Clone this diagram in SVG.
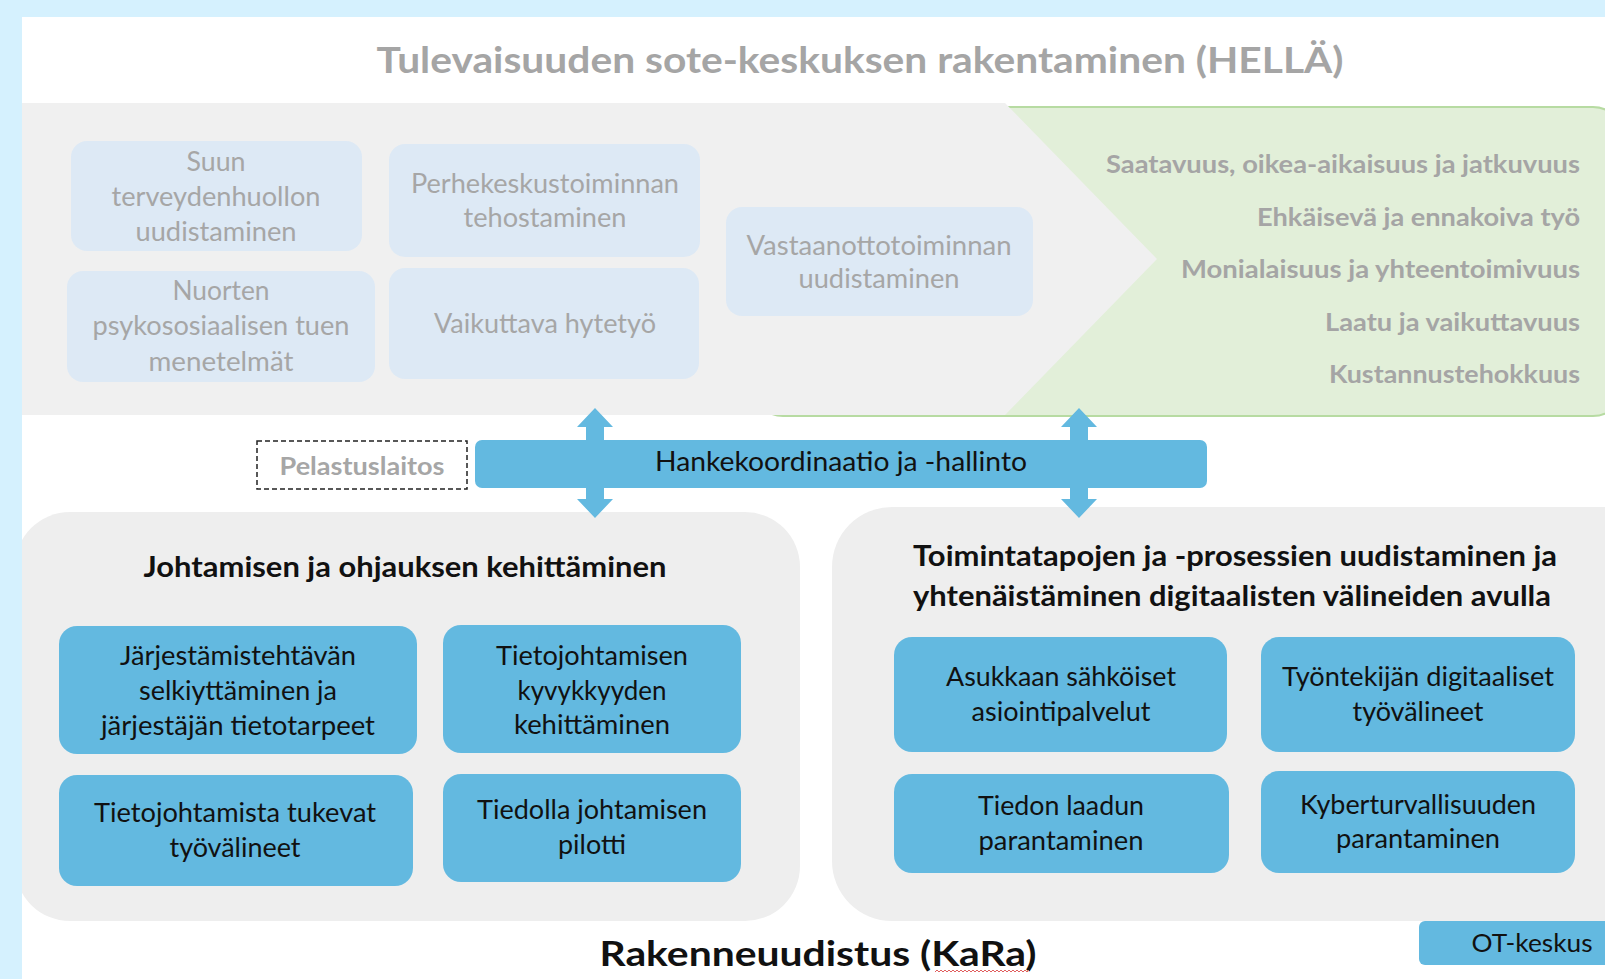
<svg xmlns="http://www.w3.org/2000/svg" width="1605" height="979" viewBox="0 0 1605 979">
<style>
text{font-family:Lato,"Liberation Sans",sans-serif;}
.faint{fill:#dde9f5;}
.ft{fill:#a6a6a6;font-size:26px;text-anchor:middle;}
.gl{fill:#a5a5a5;font-size:24px;font-weight:bold;text-anchor:end;}
.box{fill:#63b9e0;}
.bt{fill:#111;font-size:26.5px;text-anchor:middle;}
.hd{fill:#111;font-size:29px;font-weight:bold;}
.panel{fill:#eeeeee;}
.arrow{fill:#63b9e0;}
</style>
<rect x="0" y="0" width="1605" height="979" fill="#d5f1fe"/>
<rect x="22" y="17" width="1583" height="962" fill="#ffffff"/>

<g id="title">
<text x="860" y="73" text-anchor="middle" font-size="37" font-weight="bold" fill="#a5a5a5" textLength="967" lengthAdjust="spacingAndGlyphs">Tulevaisuuden sote-keskuksen rakentaminen (HELLÄ)</text>
</g>

<g id="goals">
<rect x="753" y="107" width="870" height="309" rx="30" fill="#e2efd9" stroke="#b7dba2" stroke-width="2"/>
<text class="gl" x="1580" y="173" textLength="474" lengthAdjust="spacingAndGlyphs">Saatavuus, oikea-aikaisuus ja jatkuvuus</text>
<text class="gl" x="1580" y="226" textLength="323" lengthAdjust="spacingAndGlyphs">Ehkäisevä ja ennakoiva työ</text>
<text class="gl" x="1580" y="278" textLength="399" lengthAdjust="spacingAndGlyphs">Monialaisuus ja yhteentoimivuus</text>
<text class="gl" x="1580" y="331" textLength="255" lengthAdjust="spacingAndGlyphs">Laatu ja vaikuttavuus</text>
<text class="gl" x="1580" y="383" textLength="251" lengthAdjust="spacingAndGlyphs">Kustannustehokkuus</text>
</g>

<g id="hella-panel">
<polygon points="22,103 1005,103 1157,259 1005,415 22,415" fill="#f0f0f0"/>
</g>

<g id="suun">
<rect class="faint" x="71" y="141" width="291" height="110" rx="16"/>
<text class="ft" x="216" y="171" textLength="59" lengthAdjust="spacingAndGlyphs">Suun</text>
<text class="ft" x="216" y="206" textLength="209" lengthAdjust="spacingAndGlyphs">terveydenhuollon</text>
<text class="ft" x="216" y="241" textLength="161" lengthAdjust="spacingAndGlyphs">uudistaminen</text>
</g>
<g id="perhekeskus">
<rect class="faint" x="389" y="144" width="311" height="113" rx="16"/>
<text class="ft" x="545" y="193" textLength="268" lengthAdjust="spacingAndGlyphs">Perhekeskustoiminnan</text>
<text class="ft" x="545" y="227" textLength="163" lengthAdjust="spacingAndGlyphs">tehostaminen</text>
</g>
<g id="nuorten">
<rect class="faint" x="67" y="271" width="308" height="111" rx="16"/>
<text class="ft" x="221" y="300" textLength="97" lengthAdjust="spacingAndGlyphs">Nuorten</text>
<text class="ft" x="221" y="335" textLength="257" lengthAdjust="spacingAndGlyphs">psykososiaalisen tuen</text>
<text class="ft" x="221" y="371" textLength="145" lengthAdjust="spacingAndGlyphs">menetelmät</text>
</g>
<g id="hytetyo">
<rect class="faint" x="389" y="268" width="310" height="111" rx="16"/>
<text class="ft" x="545" y="333" textLength="222" lengthAdjust="spacingAndGlyphs">Vaikuttava hytetyö</text>
</g>
<g id="vastaanotto">
<rect class="faint" x="726" y="207" width="307" height="109" rx="16"/>
<text class="ft" x="879" y="255" textLength="265" lengthAdjust="spacingAndGlyphs">Vastaanottotoiminnan</text>
<text class="ft" x="879" y="288" textLength="161" lengthAdjust="spacingAndGlyphs">uudistaminen</text>
</g>

<g id="johtaminen-panel">
<rect class="panel" x="15" y="512" width="785" height="409" rx="55"/>
<text class="hd" x="405" y="577" text-anchor="middle" textLength="523" lengthAdjust="spacingAndGlyphs">Johtamisen ja ohjauksen kehittäminen</text>
</g>
<g id="toimintatavat-panel">
<rect class="panel" x="832" y="507" width="840" height="414" rx="60"/>
<text class="hd" x="913" y="566" textLength="644" lengthAdjust="spacingAndGlyphs">Toimintatapojen ja -prosessien uudistaminen ja</text>
<text class="hd" x="913" y="606" textLength="638" lengthAdjust="spacingAndGlyphs">yhtenäistäminen digitaalisten välineiden avulla</text>
</g>

<rect x="0" y="0" width="22" height="979" fill="#d5f1fe"/>

<g id="jarjestamis">
<rect class="box" x="59" y="626" width="358" height="128" rx="18"/>
<text class="bt" x="238" y="665" textLength="236" lengthAdjust="spacingAndGlyphs">Järjestämistehtävän</text>
<text class="bt" x="238" y="700" textLength="198" lengthAdjust="spacingAndGlyphs">selkiyttäminen ja</text>
<text class="bt" x="238" y="735" textLength="274" lengthAdjust="spacingAndGlyphs">järjestäjän tietotarpeet</text>
</g>
<g id="tietojohtamisen-kyvykkyys">
<rect class="box" x="443" y="625" width="298" height="128" rx="18"/>
<text class="bt" x="592" y="665" textLength="192" lengthAdjust="spacingAndGlyphs">Tietojohtamisen</text>
<text class="bt" x="592" y="700" textLength="149" lengthAdjust="spacingAndGlyphs">kyvykkyyden</text>
<text class="bt" x="592" y="734" textLength="156" lengthAdjust="spacingAndGlyphs">kehittäminen</text>
</g>
<g id="tietojohtamista-tukevat">
<rect class="box" x="59" y="775" width="354" height="111" rx="18"/>
<text class="bt" x="235" y="822" textLength="282" lengthAdjust="spacingAndGlyphs">Tietojohtamista tukevat</text>
<text class="bt" x="235" y="857" textLength="131" lengthAdjust="spacingAndGlyphs">työvälineet</text>
</g>
<g id="tiedolla-johtaminen">
<rect class="box" x="443" y="774" width="298" height="108" rx="18"/>
<text class="bt" x="592" y="819" textLength="230" lengthAdjust="spacingAndGlyphs">Tiedolla johtamisen</text>
<text class="bt" x="592" y="854" textLength="68" lengthAdjust="spacingAndGlyphs">pilotti</text>
</g>

<g id="asukkaan">
<rect class="box" x="894" y="637" width="333" height="115" rx="18"/>
<text class="bt" x="1061" y="686" textLength="230" lengthAdjust="spacingAndGlyphs">Asukkaan sähköiset</text>
<text class="bt" x="1061" y="721" textLength="179" lengthAdjust="spacingAndGlyphs">asiointipalvelut</text>
</g>
<g id="tyontekijan">
<rect class="box" x="1261" y="637" width="314" height="115" rx="18"/>
<text class="bt" x="1418" y="686" textLength="272" lengthAdjust="spacingAndGlyphs">Työntekijän digitaaliset</text>
<text class="bt" x="1418" y="721" textLength="131" lengthAdjust="spacingAndGlyphs">työvälineet</text>
</g>
<g id="tiedon-laatu">
<rect class="box" x="894" y="774" width="335" height="99" rx="18"/>
<text class="bt" x="1061" y="815" textLength="166" lengthAdjust="spacingAndGlyphs">Tiedon laadun</text>
<text class="bt" x="1061" y="850" textLength="165" lengthAdjust="spacingAndGlyphs">parantaminen</text>
</g>
<g id="kyberturvallisuus">
<rect class="box" x="1261" y="771" width="314" height="102" rx="18"/>
<text class="bt" x="1418" y="814" textLength="236" lengthAdjust="spacingAndGlyphs">Kyberturvallisuuden</text>
<text class="bt" x="1418" y="848" textLength="164" lengthAdjust="spacingAndGlyphs">parantaminen</text>
</g>

<g id="connectors">
<polygon class="arrow" points="595,408 613,427 604,427 604,499 613,499 595,518 577,499 586,499 586,427 577,427"/>
<polygon class="arrow" points="1079,408 1097,427 1088,427 1088,499 1097,499 1079,518 1061,499 1070,499 1070,427 1061,427"/>
</g>

<g id="hankekoordinaatio">
<rect class="box" x="475" y="440" width="732" height="48" rx="7"/>
<text x="841" y="471" text-anchor="middle" font-size="27" fill="#111" textLength="372" lengthAdjust="spacingAndGlyphs">Hankekoordinaatio ja -hallinto</text>
</g>

<g id="pelastuslaitos">
<rect x="257" y="441" width="210" height="48" fill="#ffffff" stroke="#222" stroke-width="1.5" stroke-dasharray="5,3"/>
<text x="362" y="475" text-anchor="middle" font-size="25" font-weight="bold" fill="#a6a6a6" textLength="165" lengthAdjust="spacingAndGlyphs">Pelastuslaitos</text>
</g>

<g id="rakenneuudistus">
<text x="818" y="966" text-anchor="middle" font-size="35" font-weight="bold" fill="#111" textLength="437" lengthAdjust="spacingAndGlyphs">Rakenneuudistus (KaRa)</text>
<path d="M935,972 l2,-2 l2,2 l2,-2 l2,2 l2,-2 l2,2 l2,-2 l2,2 l2,-2 l2,2 l2,-2 l2,2 l2,-2 l2,2 l2,-2 l2,2 l2,-2 l2,2 l2,-2 l2,2 l2,-2 l2,2 l2,-2 l2,2 l2,-2 l2,2 l2,-2 l2,2 l2,-2 l2,2 l2,-2 l2,2 l2,-2 l2,2 l2,-2 l2,2 l2,-2 l2,2 l2,-2 l2,2 l2,-2 l2,2 l2,-2 l2,2 l2,-2 l2,2 l2,-2" fill="none" stroke="#e06060" stroke-width="1"/>
</g>

<g id="ot-keskus">
<rect class="box" x="1419" y="921" width="200" height="44" rx="6"/>
<text x="1532" y="952" text-anchor="middle" font-family="Liberation Sans, Arial, sans-serif" font-size="25" fill="#111" textLength="121" lengthAdjust="spacingAndGlyphs">OT-keskus</text>
</g>
</svg>
